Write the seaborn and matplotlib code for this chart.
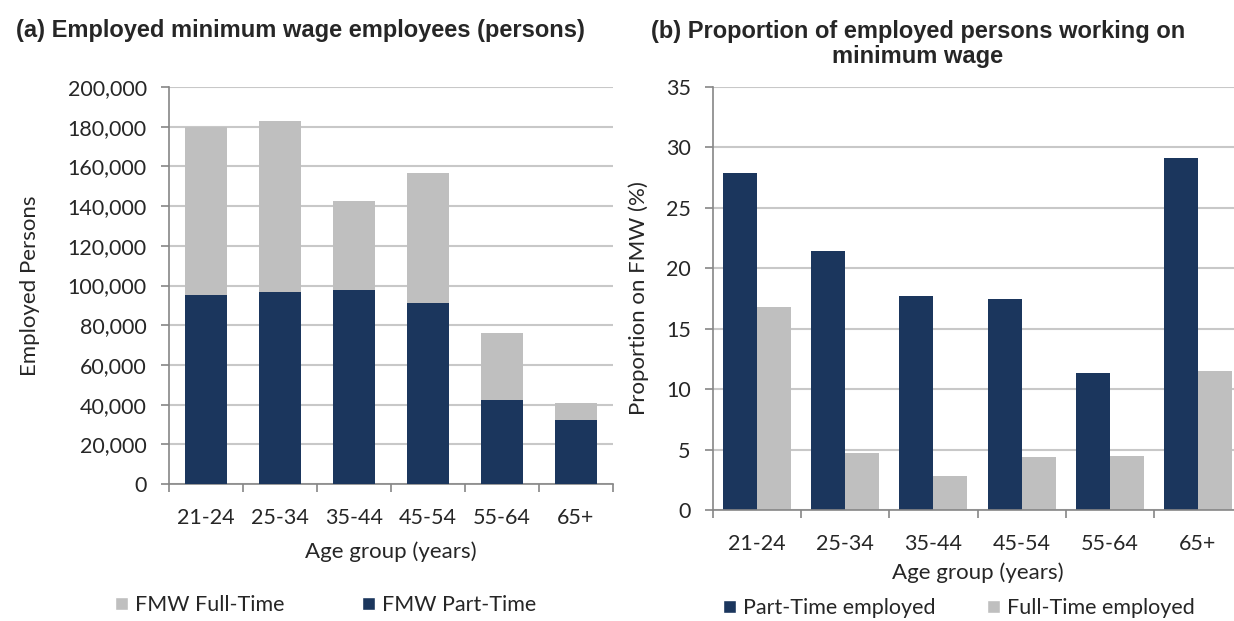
import matplotlib
matplotlib.use("Agg")
import matplotlib.pyplot as plt
from matplotlib.patches import Patch
from matplotlib.ticker import FuncFormatter, FixedLocator
import seaborn as sns

# data
ages = ["21-24", "25-34", "35-44", "45-54", "55-64", "65+"]
pt_persons = [95200, 96700, 97600, 91000, 42300, 32200]
ft_persons = [84800, 86300, 45100, 65500, 33900, 8400]
pt_prop = [27.9, 21.4, 17.7, 17.5, 11.3, 29.1]
ft_prop = [16.8, 4.7, 2.8, 4.4, 4.5, 11.5]

navy = "#1b365d"
grey = "#bfbfbf"
spine_col = "#868686"
grid_col = "#c8c8c8"

sns.set_style("white")
plt.rcParams["font.family"] = ["Lato", "DejaVu Sans"]

fig = plt.figure(figsize=(12.34, 6.21), dpi=100)
ax1 = fig.add_axes([169 / 1234, 137 / 621, 444 / 1234, 397 / 621])
ax2 = fig.add_axes([713 / 1234, 111 / 621, 529 / 1234, 423 / 621])

tick_fs = 15.5
label_fs = 16
title_fs = 17


def style_axis(ax, ymax, ystep, fmt):
    ax.set_xlim(-0.5, 5.5)
    ax.set_ylim(0, ymax)
    ax.set_yticks(range(0, ymax + 1, ystep))
    ax.yaxis.set_major_formatter(FuncFormatter(fmt))
    ax.grid(axis="y", color=grid_col, linewidth=1.5, zorder=0)
    ax.set_axisbelow(True)
    for s in ["top", "right"]:
        ax.spines[s].set_visible(False)
    for s in ["left", "bottom"]:
        ax.spines[s].set_color(spine_col)
        ax.spines[s].set_linewidth(1.2)
    # category boundaries as major ticks, labels on minor ticks
    ax.xaxis.set_major_locator(FixedLocator([i - 0.5 for i in range(7)]))
    ax.xaxis.set_major_formatter(FuncFormatter(lambda v, p: ""))
    ax.xaxis.set_minor_locator(FixedLocator(range(6)))
    ax.set_xticklabels(ages, minor=True)
    ax.tick_params(axis="x", which="major", direction="out", length=6,
                   color=spine_col, width=1.2, bottom=True)
    ax.tick_params(axis="x", which="minor", length=0, pad=17, labelsize=tick_fs)
    ax.tick_params(axis="y", direction="out", length=6, color=spine_col,
                   width=1.2, left=True, pad=10, labelsize=tick_fs)


# (a) stacked bars
totals = [p + f for p, f in zip(pt_persons, ft_persons)]
sns.barplot(x=ages, y=totals, color=grey, width=0.56, saturation=1,
            linewidth=0, ax=ax1, zorder=2)
sns.barplot(x=ages, y=pt_persons, color=navy, width=0.56, saturation=1,
            linewidth=0, ax=ax1, zorder=3)
style_axis(ax1, 200000, 20000, lambda v, p: f"{int(v):,}")
ax1.set_xlabel("Age group (years)", fontsize=label_fs, labelpad=10)
ax1.set_ylabel("Employed Persons", fontsize=label_fs, labelpad=20)
fig.text(300 / 1234, 1 - 30 / 621, "(a) Employed minimum wage employees (persons)",
         ha="center", va="center", fontsize=title_fs, fontweight="bold",
         family="Liberation Sans")

# (b) grouped bars
hue = ["Part-Time employed"] * 6 + ["Full-Time employed"] * 6
sns.barplot(x=ages * 2, y=pt_prop + ft_prop, hue=hue, palette=[navy, grey],
            width=0.77, saturation=1, linewidth=0, ax=ax2, legend=False, zorder=2)
style_axis(ax2, 35, 5, lambda v, p: f"{int(v)}")
ax2.set_xlabel("Age group (years)", fontsize=label_fs, labelpad=6)
ax2.set_ylabel("Proportion on FMW (%)", fontsize=label_fs, labelpad=12)
fig.text(918 / 1234, 1 - 44 / 621,
         "(b) Proportion of employed persons working on\nminimum wage",
         ha="center", va="center", fontsize=title_fs, fontweight="bold",
         family="Liberation Sans", linespacing=1.1)


# legends, one entry each so they sit where the reference puts them
def put_legend(label, color, x_px, y_px):
    fig.legend(handles=[Patch(facecolor=color, label=label)],
               loc="center left", bbox_to_anchor=(x_px / 1234, 1 - y_px / 621),
               frameon=False, fontsize=tick_fs, handlelength=0.6, handleheight=0.6,
               handletextpad=0.35, borderpad=0, borderaxespad=0)


put_legend("FMW Full-Time", grey, 115, 605)
put_legend("FMW Part-Time", navy, 362, 605)
put_legend("Part-Time employed", navy, 723, 608)
put_legend("Full-Time employed", grey, 987, 608)

fig.savefig("out.png", dpi=100)
